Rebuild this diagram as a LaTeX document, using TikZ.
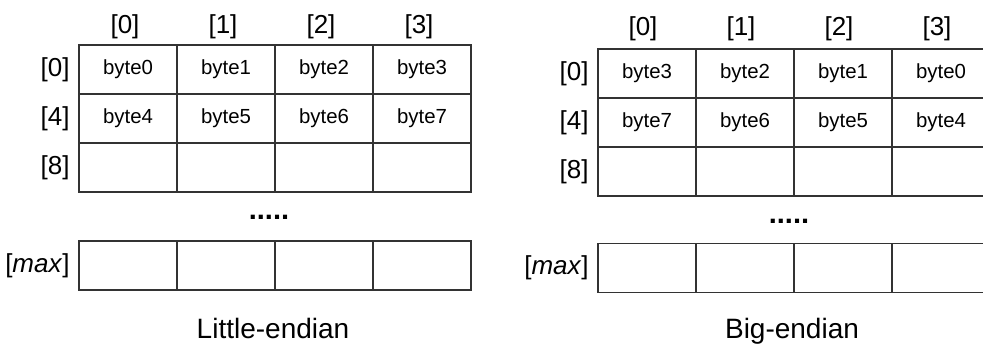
\documentclass[tikz,border=0pt]{standalone}
\usepackage{fontspec}
\setmainfont{Liberation Sans}
\usetikzlibrary{positioning}

\begin{document}
\begin{tikzpicture}[x=0.5pt, y=-0.5pt,
  cell/.style={draw=black!80, line width=0.8pt, minimum width=49pt, minimum height=24.5pt,
               inner sep=0pt, font=\fontsize{10.2}{12}\selectfont},
  hdr/.style={font=\fontsize{13}{15}\selectfont, inner sep=0pt},
  dotsnode/.style={font=\bfseries\fontsize{14.5}{16}\selectfont, inner sep=0pt, anchor=base},
  title/.style={font=\fontsize{14}{16}\selectfont, inner sep=0pt, anchor=base}]

  % 画布（像素坐标）
  \useasboundingbox (0,0) rectangle (983,347);

  % 单元格尺寸
  \pgfmathsetmacro{\cw}{98}
  \pgfmathsetmacro{\ch}{49}

  % ---- 左：Little-endian ----
  \pgfmathsetmacro{\lx}{79}
  \pgfmathsetmacro{\ly}{45}

  \foreach \j in {0,1,2,3} {
    \pgfmathtruncatemacro{\ba}{\j}
    \pgfmathtruncatemacro{\bb}{\j+4}
    \node[cell] (L0\j) at (\lx+\j*\cw+\cw/2, \ly+\ch/2) {byte\ba};
    \node[cell] (L1\j) at (\lx+\j*\cw+\cw/2, \ly+\ch+\ch/2) {byte\bb};
    \node[cell] (L2\j) at (\lx+\j*\cw+\cw/2, \ly+2*\ch+\ch/2) {};
    \node[cell] (Lm\j) at (\lx+\j*\cw+\cw/2, 265.5) {};
    \node[hdr, anchor=base] (Lh\j) at (\lx+\j*\cw+\cw/2-3, 34) {[\j]};
  }

  % 行地址
  \node[hdr, anchor=east] (Lr0) at (\lx-9, \ly+\ch/2) {[0]};
  \node[hdr, anchor=east] (Lr4) at (\lx-9, \ly+\ch+\ch/2) {[4]};
  \node[hdr, anchor=east] (Lr8) at (\lx-9, \ly+2*\ch+\ch/2) {[8]};
  \node[hdr, anchor=east] (Lrm) at (\lx-9, 265.5) {[\textit{max}]};

  \node[dotsnode] (Ldots) at (269, 220) {.....};
  \node[title] (Ltitle) at (273, 338) {Little-endian};

  % ---- 右：Big-endian ----
  \pgfmathsetmacro{\rx}{598}
  \pgfmathsetmacro{\ry}{49}

  \foreach \j in {0,1,2,3} {
    \pgfmathtruncatemacro{\ba}{3-\j}
    \pgfmathtruncatemacro{\bb}{7-\j}
    \node[cell] (R0\j) at (\rx+\j*\cw+\cw/2, \ry+\ch/2) {byte\ba};
    \node[cell] (R1\j) at (\rx+\j*\cw+\cw/2, \ry+\ch+\ch/2) {byte\bb};
    \node[cell] (R2\j) at (\rx+\j*\cw+\cw/2, \ry+2*\ch+\ch/2) {};
    \node[cell] (Rm\j) at (\rx+\j*\cw+\cw/2, 268) {};
    \node[hdr, anchor=base] (Rh\j) at (\rx+\j*\cw+\cw/2-4, 36) {[\j]};
  }

  % 行地址
  \node[hdr, anchor=east] (Rr0) at (\rx-9, \ry+\ch/2) {[0]};
  \node[hdr, anchor=east] (Rr4) at (\rx-9, \ry+\ch+\ch/2) {[4]};
  \node[hdr, anchor=east] (Rr8) at (\rx-9, \ry+2*\ch+\ch/2) {[8]};
  \node[hdr, anchor=east] (Rrm) at (\rx-9, 268) {[\textit{max}]};

  \node[dotsnode] (Rdots) at (789, 223) {.....};
  \node[title] (Rtitle) at (792, 338) {Big-endian};

\end{tikzpicture}
\end{document}
